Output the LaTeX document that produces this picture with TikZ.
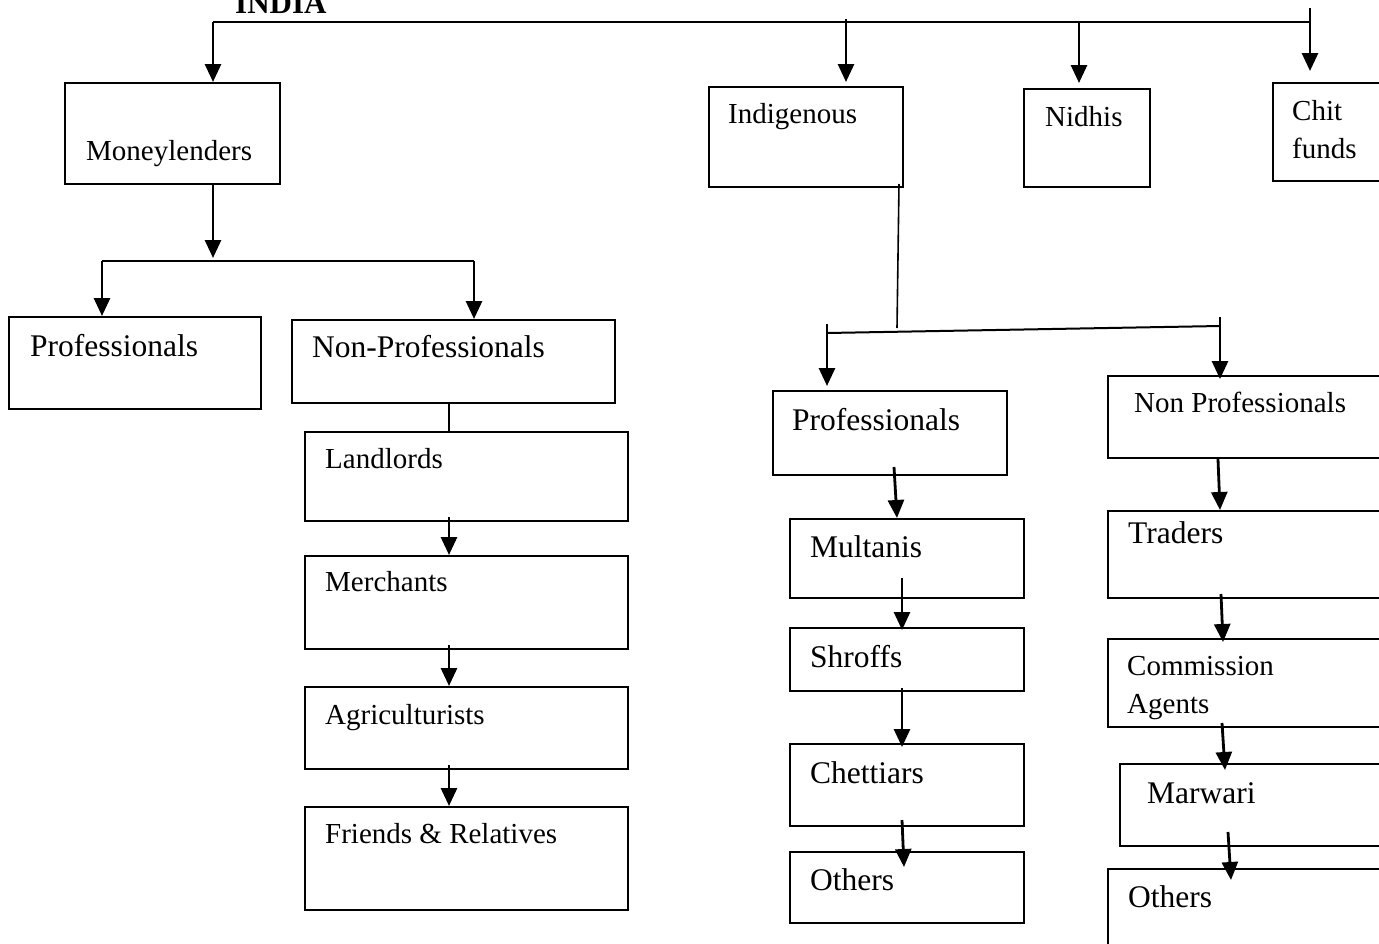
\documentclass[tikz,border=0pt]{standalone}
\usepackage{fontspec}
\setmainfont{Liberation Serif}
\usetikzlibrary{arrows.meta,positioning,calc}

\tikzset{
  box/.style={draw, line width=2pt, anchor=north west, inner sep=0pt},
  lbl/.style={anchor=base west, inner sep=0pt, font=\fontsize{29}{35}\selectfont},
  lblbig/.style={anchor=base west, inner sep=0pt, font=\fontsize{31.5}{38}\selectfont},
  arr/.style={-{Triangle[width=16pt,length=18pt]}, line width=2.8pt},
  bus/.style={line width=2pt},
}

\begin{document}
\begin{tikzpicture}[x=1pt,y=-1pt]
\useasboundingbox (0,0) rectangle (1379,943);

\node[anchor=base west, inner sep=0pt, font=\fontsize{31}{37}\selectfont\bfseries] (india) at (235,13) {INDIA};

\node[box, minimum width=215pt, minimum height=101pt] (ml) at (64,82) {};
\node[box, minimum width=194pt, minimum height=100pt] (ind) at (708,86) {};
\node[box, minimum width=126pt, minimum height=98pt] (nid) at (1023,88) {};
\node[box, minimum width=140pt, minimum height=98pt] (chit) at (1272,82) {};
\node[box, minimum width=252pt, minimum height=92pt] (profL) at (8,316) {};
\node[box, minimum width=323pt, minimum height=83pt] (nprofL) at (291,319) {};
\node[box, minimum width=323pt, minimum height=89pt] (land) at (304,431) {};
\node[box, minimum width=323pt, minimum height=93pt] (merch) at (304,555) {};
\node[box, minimum width=323pt, minimum height=82pt] (agri) at (304,686) {};
\node[box, minimum width=323pt, minimum height=103pt] (frnd) at (304,806) {};
\node[box, minimum width=234pt, minimum height=84pt] (profM) at (772,390) {};
\node[box, minimum width=234pt, minimum height=79pt] (mult) at (789,518) {};
\node[box, minimum width=234pt, minimum height=63pt] (shr) at (789,627) {};
\node[box, minimum width=234pt, minimum height=82pt] (chet) at (789,743) {};
\node[box, minimum width=234pt, minimum height=71pt] (othM) at (789,851) {};
\node[box, minimum width=290pt, minimum height=82pt] (nprofR) at (1107,375) {};
\node[box, minimum width=290pt, minimum height=87pt] (trad) at (1107,510) {};
\node[box, minimum width=290pt, minimum height=88pt] (comm) at (1107,638) {};
\node[box, minimum width=280pt, minimum height=82pt] (marw) at (1119,763) {};
\node[box, minimum width=290pt, minimum height=100pt] (othR) at (1107,868) {};

\node[lbl] (ml-t) at (86,160) {Moneylenders};
\node[lbl] (ind-t) at (728,123) {Indigenous};
\node[lbl] (nid-t) at (1045,126) {Nidhis};
\node[lbl] (chit-t1) at (1292,120) {Chit};
\node[lbl] (chit-t2) at (1292,158) {funds};
\node[lblbig] (profL-t) at (30,356) {Professionals};
\node[lblbig] (nprofL-t) at (312,357) {Non-Professionals};
\node[lbl] (land-t) at (325,468) {Landlords};
\node[lbl] (merch-t) at (325,591) {Merchants};
\node[lbl] (agri-t) at (325,724) {Agriculturists};
\node[lbl] (frnd-t) at (325,843) {Friends \& Relatives};
\node[lblbig] (profM-t) at (792,430) {Professionals};
\node[lblbig] (mult-t) at (810,557) {Multanis};
\node[lblbig] (shr-t) at (810,667) {Shroffs};
\node[lblbig] (chet-t) at (810,783) {Chettiars};
\node[lblbig] (othM-t) at (810,890) {Others};
\node[lbl] (nprofR-t) at (1134,412) {Non Professionals};
\node[lblbig] (trad-t) at (1128,543) {Traders};
\node[lbl] (comm-t1) at (1127,675) {Commission};
\node[lbl] (comm-t2) at (1127,713) {Agents};
\node[lblbig] (marw-t) at (1147,803) {Marwari};
\node[lblbig] (othR-t) at (1128,907) {Others};

\coordinate (busL) at (213,22);
\coordinate (busR) at (1310,22);
\coordinate (busI) at (846,19);
\coordinate (busN) at (1079,22);
\coordinate (chitTop) at (1310,8);
\draw[bus] (busL) -- (busR);
\draw[arr] (busL) -- (busL |- ml.north);
\draw[arr] (busI) -- ($(busI |- ind.north)+(0,-4)$);
\draw[arr] (busN) -- ($(busN |- nid.north)+(0,-5)$);
\draw[arr] (chitTop) -- ($(chitTop |- chit.north)+(0,-11)$);

\coordinate (mlL) at (102,261);
\coordinate (mlM) at (213,261);
\coordinate (mlR) at (474,261);
\draw[arr] (mlM |- ml.south) -- ($(mlM)+(0,-3)$);
\draw[bus] (mlL) -- (mlR);
\draw[arr] (mlL) -- (mlL |- profL.north);
\draw[arr] (mlR) -- (mlR |- nprofL.north);

\coordinate (npx) at (449,0);
\draw[bus] (npx |- nprofL.south) -- (npx |- land.north);
\draw[arr] ($(npx |- land.south)+(0,-5)$) -- (npx |- merch.north);
\draw[arr] ($(npx |- merch.south)+(0,-5)$) -- (npx |- agri.north);
\draw[arr] ($(npx |- agri.south)+(0,-5)$) -- (npx |- frnd.north);

\coordinate (iL) at (827,333);
\coordinate (iR) at (1220,326);
\coordinate (iM) at (897,328);
\draw[line width=1.6pt] ($(ind.south east)+(-5,-4)$) -- (iM);
\draw[bus] (iL) -- (iR);
\draw[arr] ($(iL)+(0,-9)$) -- ($(iL |- profM.north)+(0,-4)$);
\draw[arr] ($(iR)+(0,-9)$) -- ($(iR |- nprofR.north)+(0,4)$);

\draw[arr] ($(profM.south west)+(122,-9)$) -- ($(mult.north west)+(108,0)$);
\draw[arr] ($(mult.south west)+(113,-21)$) -- ($(shr.north west)+(113,3)$);
\draw[arr] ($(shr.south west)+(113,-4)$) -- ($(chet.north west)+(113,4)$);
\draw[arr] ($(chet.south west)+(113,-7)$) -- ($(othM.north west)+(115,16)$);

\draw[arr] ($(nprofR.south west)+(111,0)$) -- ($(trad.north west)+(113,0)$);
\draw[arr] ($(trad.south west)+(114,-5)$) -- ($(comm.north west)+(116,4)$);
\draw[arr] ($(comm.south west)+(115,-5)$) -- ($(marw.north west)+(106,7)$);
\draw[arr] ($(marw.south west)+(109,-15)$) -- ($(othR.north west)+(124,12)$);
\end{tikzpicture}
\end{document}
